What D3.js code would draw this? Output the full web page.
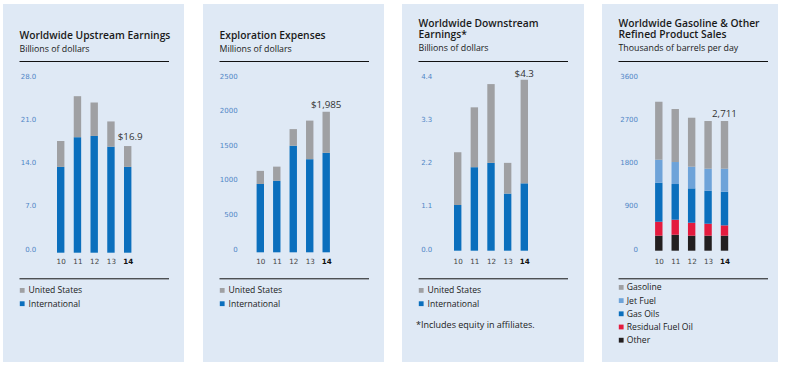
<!DOCTYPE html>
<html><head><meta charset="utf-8">
<script src="https://cdn.jsdelivr.net/npm/d3@7"></script>
<style>
body{margin:0;background:#fff;}
svg{display:block;}
</style></head>
<body>
<svg id="c" width="787" height="366"></svg>
<script>
// ---------- DATA ----------
const years = ["10","11","12","13","14"];

// Panel 1: Worldwide Upstream Earnings (billions of dollars)
const upUS   = [4.1, 6.5, 5.3, 4.0, 3.3];
const upIntl = [13.6, 18.3, 18.5, 16.8, 13.6];
const upTicks = [0, 7, 14, 21, 28];

// Panel 2: Exploration Expenses (millions of dollars)
const exUS   = [185, 200, 235, 545, 580];
const exIntl = [965, 1010, 1505, 1315, 1405];
const exTicks = [0, 500, 1000, 1500, 2000, 2500];

// Panel 3: Worldwide Downstream Earnings (billions of dollars)
const dnUS   = [1.34, 1.52, 2.00, 0.78, 2.63];
const dnIntl = [1.16, 2.12, 2.23, 1.45, 1.71];
const dnTicks = [0, 1.1, 2.2, 3.3, 4.4];

// Panel 4: Refined Product Sales (thousands of barrels per day)
const rpOther    = [314, 334, 314, 314, 314];
const rpResidual = [292, 314, 271, 250, 216];
const rpGasOils  = [815, 746, 718, 690, 703];
const rpJetFuel  = [481, 460, 453, 460, 481];
const rpGasoline = [1212, 1108, 1024, 997, 997];
const rpTicks = [0, 900, 1800, 2700, 3600];

const valueLabels = ["$16.9", "$1,985", "$4.3", "2,711"];

// ---------- STYLE ----------
const BG = "#dfe9f5";
const GRAY = "#9fa0a3";
const BLUE = "#0b6fbd";
const LBLUE = "#6ea3d9";
const RED = "#e41b3e";
const BLACK = "#231f20";
const TICK = "#4f86c6";
const SANS = "'Open Sans', 'Noto Sans', sans-serif";
const NUM = "'DejaVu Sans', sans-serif";

const svg = d3.select("#c");

const panels = [
  { x0: 3, w: 181, title: ["Worldwide Upstream Earnings"], sub: "Billions of dollars",
    series: [{n:"International", v: upIntl, c: BLUE}, {n:"United States", v: upUS, c: GRAY}],
    legend: ["United States","International"], legendC: [GRAY, BLUE],
    ticks: upTicks, fmt: d3.format(".1f"), dom: [0,28], y0: 252.7, yTop: 76,
    c0: 60.7, c1: 127.7, axisR: 36.3, vlab: valueLabels[0], vdx: 2.5, vdy: -6 },
  { x0: 203, w: 181, title: ["Exploration Expenses"], sub: "Millions of dollars",
    series: [{n:"International", v: exIntl, c: BLUE}, {n:"United States", v: exUS, c: GRAY}],
    legend: ["United States","International"], legendC: [GRAY, BLUE],
    ticks: exTicks, fmt: d3.format("d"), dom: [0,2500], y0: 252.3, yTop: 75.3,
    c0: 260.3, c1: 326.2, axisR: 237.7, vlab: valueLabels[1], vdx: 0, vdy: -4 },
  { x0: 402, w: 182, title: ["Worldwide Downstream", "Earnings*"], sub: "Billions of dollars",
    series: [{n:"International", v: dnIntl, c: BLUE}, {n:"United States", v: dnUS, c: GRAY}],
    legend: ["United States","International"], legendC: [GRAY, BLUE],
    ticks: dnTicks, fmt: d3.format(".1f"), dom: [0,4.4], y0: 250.7, yTop: 77.4,
    c0: 457.7, c1: 524.3, axisR: 432.3, vlab: valueLabels[2], vdx: 0, vdy: -3,
    note: "*Includes equity in affiliates." },
  { x0: 602, w: 176, title: ["Worldwide Gasoline & Other", "Refined Product Sales"], sub: "Thousands of barrels per day",
    series: [{n:"Other", v: rpOther, c: BLACK}, {n:"Residual Fuel Oil", v: rpResidual, c: RED},
             {n:"Gas Oils", v: rpGasOils, c: BLUE}, {n:"Jet Fuel", v: rpJetFuel, c: LBLUE},
             {n:"Gasoline", v: rpGasoline, c: GRAY}],
    legend: ["Gasoline","Jet Fuel","Gas Oils","Residual Fuel Oil","Other"],
    legendC: [GRAY, LBLUE, BLUE, RED, BLACK],
    ticks: rpTicks, fmt: d3.format("d"), dom: [0,3600], y0: 250.7, yTop: 78.5,
    c0: 658.8, c1: 724.5, axisR: 638, vlab: valueLabels[3], vdx: 0, vdy: -4 }
];

const BW = 7.4;

panels.forEach((p, pi) => {
  const g = svg.append("g");
  g.append("rect").attr("x", p.x0).attr("y", 4).attr("width", p.w).attr("height", 358).attr("fill", BG);

  const lx = p.x0 + 16.5;
  const rx = p.x0 + 166;
  // title (one text element; lines as tspans)
  const tTop = p.title.length === 1 ? 38.5 : 27.3;
  const tt = g.append("text").attr("x", lx).attr("y", tTop)
    .attr("font-family", SANS).attr("font-weight", 600).attr("font-size", 10.3)
    .attr("fill", "#1a1a1a");
  p.title.forEach((t, i) => {
    tt.append("tspan").attr("x", lx).attr("dy", i === 0 ? 0 : 10.8).text(t);
  });
  g.append("text").attr("x", lx).attr("y", tTop + (p.title.length - 1) * 10.8 + 13.3)
    .attr("font-family", SANS).attr("font-size", 8.8).attr("fill", "#1a1a1a").text(p.sub);

  g.append("line").attr("x1", lx).attr("x2", rx).attr("y1", 61.5).attr("y2", 61.5)
    .attr("stroke", "#111").attr("stroke-width", 1);
  g.append("line").attr("x1", lx).attr("x2", rx).attr("y1", 278.8).attr("y2", 278.8)
    .attr("stroke", "#111").attr("stroke-width", 1);

  // scales
  const y = d3.scaleLinear().domain(p.dom).range([p.y0, p.yTop]);
  const yLab = d3.scaleLinear().domain(p.dom).range([248.5, 75.7]);
  const x = d3.scalePoint().domain(years).range([p.c0, p.c1]);

  // y axis labels
  const ya = d3.axisLeft(yLab).tickValues(p.ticks).tickFormat(p.fmt).tickSize(0).tickPadding(0);
  const yg = g.append("g").attr("transform", `translate(${p.axisR},0)`).call(ya);
  yg.select(".domain").remove();
  yg.selectAll("text").attr("font-family", NUM).attr("font-size", 7).attr("fill", TICK)
    .attr("dy", "0.36em");

  // x axis labels
  const xa = d3.axisBottom(x).tickSize(0).tickPadding(0);
  const xg = g.append("g").attr("transform", `translate(0,${264.2})`).call(xa);
  xg.select(".domain").remove();
  xg.selectAll("text").attr("font-family", NUM).attr("font-size", 7.2)
    .attr("dy", 0)
    .attr("font-weight", d => d === "14" ? "bold" : "normal")
    .attr("fill", d => d === "14" ? "#111" : "#444");

  // stacked bars
  const rows = years.map((yr, i) => {
    const o = { year: yr };
    p.series.forEach(s => o[s.n] = s.v[i]);
    return o;
  });
  const stack = d3.stack().keys(p.series.map(s => s.n))(rows);
  stack.forEach((layer, li) => {
    g.append("g").attr("fill", p.series[li].c)
      .selectAll("rect").data(layer).join("rect")
      .attr("x", d => x(d.data.year) - BW / 2)
      .attr("width", BW)
      .attr("y", d => y(d[1]))
      .attr("height", d => y(d[0]) - y(d[1]));
  });

  // value label on last bar
  const lastTop = stack[stack.length - 1][4][1];
  g.append("text").attr("x", x("14") + p.vdx).attr("y", y(lastTop) + p.vdy)
    .attr("text-anchor", "middle").attr("font-family", SANS).attr("font-size", 9.8)
    .attr("fill", "#333").text(p.vlab);

  // legend
  const legStep = pi === 3 ? 13.2 : 13.3;
  const legY0 = pi === 3 ? 287.3 : 290.3;
  const txOff = pi === 3 ? 8.3 : 9;
  p.legend.forEach((name, i) => {
    const cy = legY0 + i * legStep;
    g.append("rect").attr("x", lx + 0.3).attr("y", cy - 2.3).attr("width", 4.8).attr("height", 4.8)
      .attr("fill", p.legendC[i]);
    g.append("text").attr("x", lx + txOff).attr("y", cy).attr("dy", "0.35em")
      .attr("font-family", SANS).attr("font-size", 8.6).attr("fill", "#1a1a1a").text(name);
  });

  if (p.note) {
    g.append("text").attr("x", lx - 2.5).attr("y", 325).attr("dy", "0.35em")
      .attr("font-family", SANS).attr("font-size", 9).attr("fill", "#1a1a1a").text(p.note);
  }
});
</script>
</body></html>
